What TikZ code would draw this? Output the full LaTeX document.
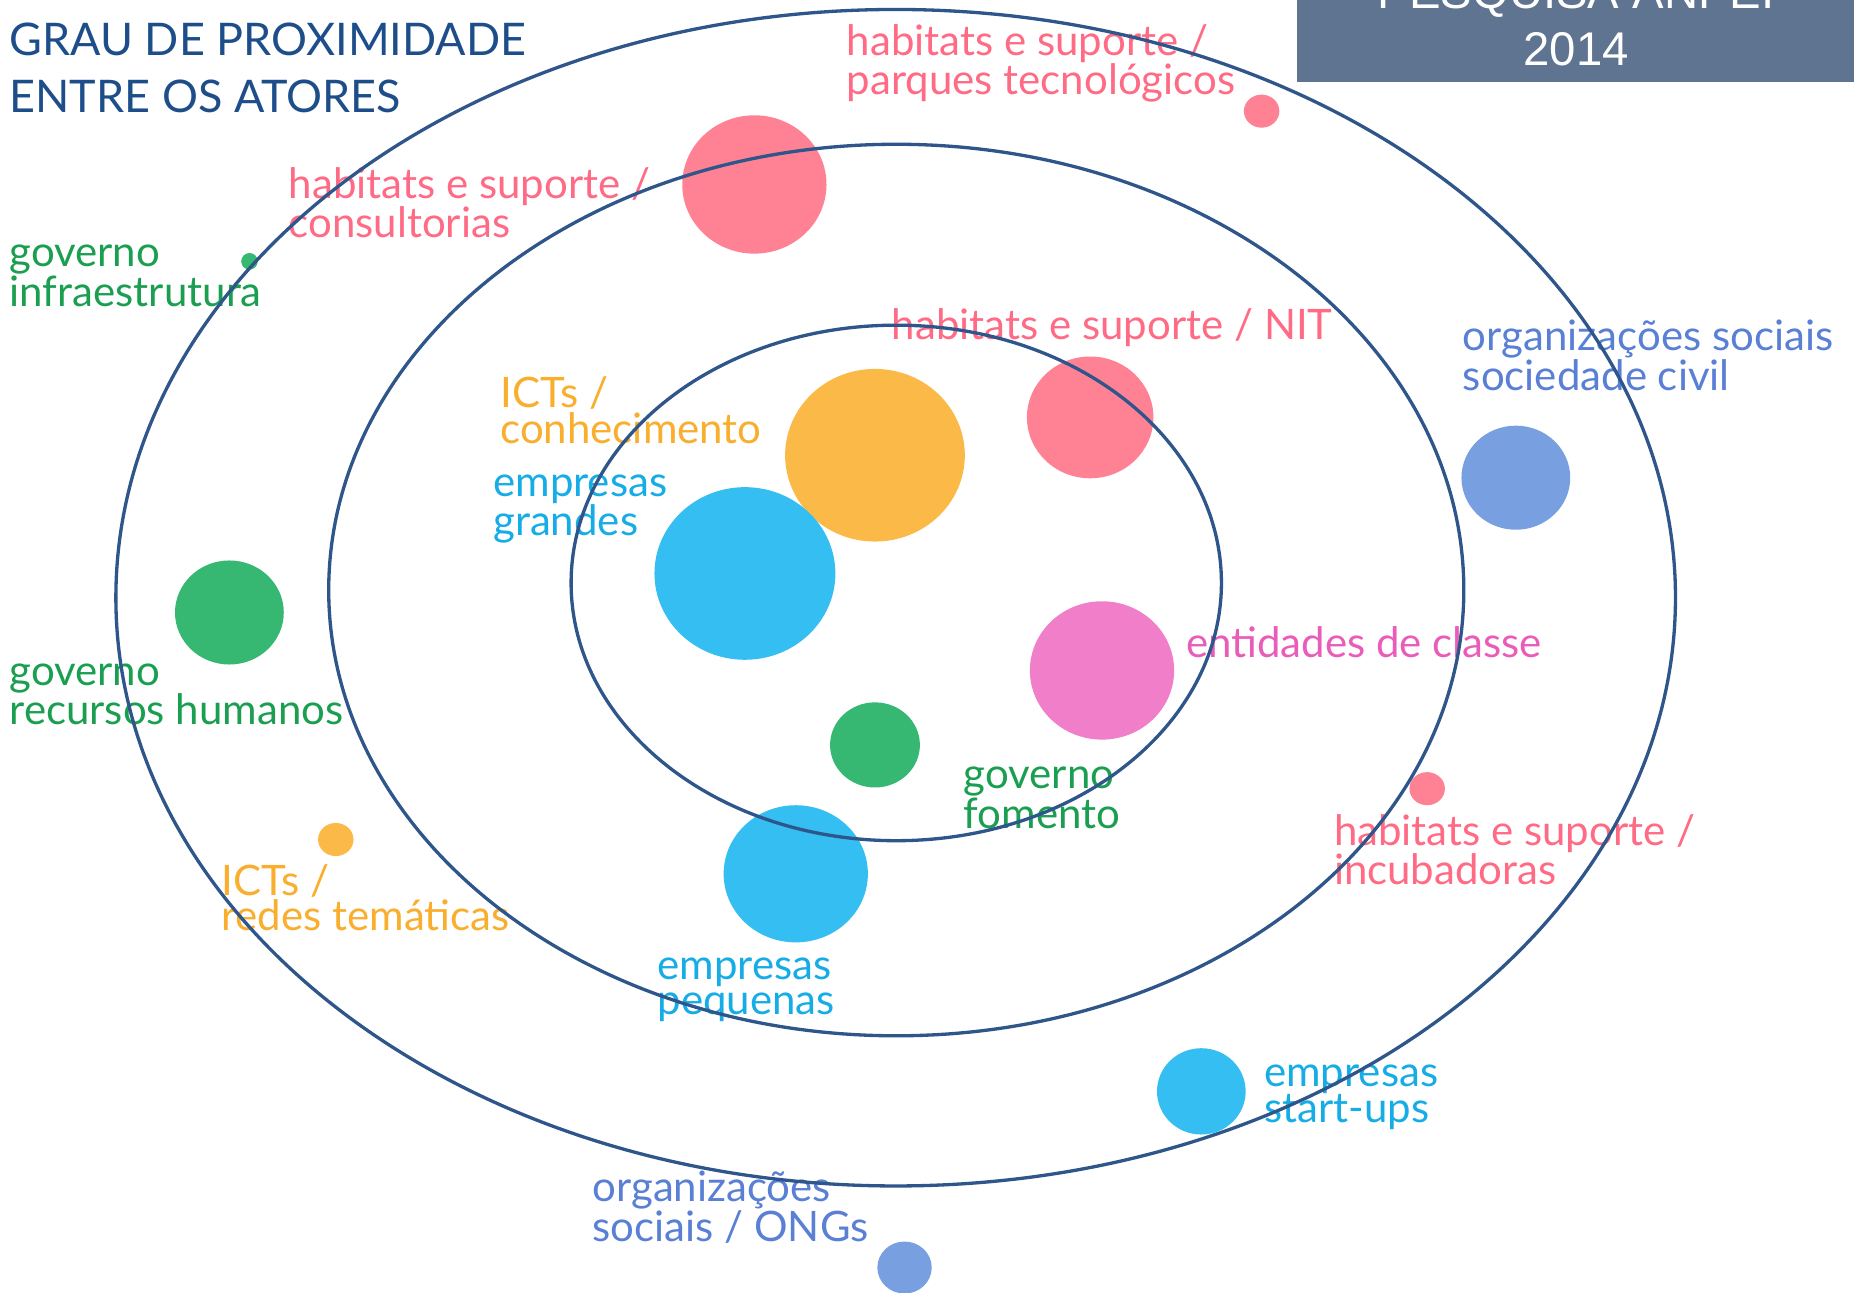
\documentclass[tikz,border=0pt]{standalone}
\usepackage{fontspec}
\setmainfont{Lato}
\newfontfamily\boxfont{Liberation Sans}
\definecolor{ring}{HTML}{2F568A}
\definecolor{titleblue}{HTML}{1E4E8A}
\definecolor{boxfill}{HTML}{5F7490}
\definecolor{pinkfill}{HTML}{FF8294}
\definecolor{pinktext}{HTML}{FF6B85}
\definecolor{yellowfill}{HTML}{FBBA47}
\definecolor{yellowtext}{HTML}{F9AE2E}
\definecolor{bluefill}{HTML}{35BEF1}
\definecolor{bluetext}{HTML}{16ACE6}
\definecolor{greenfill}{HTML}{37B872}
\definecolor{greentext}{HTML}{1A9E50}
\definecolor{magfill}{HTML}{F07EC8}
\definecolor{magtext}{HTML}{E95CB9}
\definecolor{perifill}{HTML}{789FE0}
\definecolor{peritext}{HTML}{5A80D6}
\begin{document}
% multi-line labels are placed by the baseline of their last line
\begin{tikzpicture}[x=1pt,y=-1pt,
  lbl/.style={anchor=base west,inner sep=0pt,align=left,
    font=\fontsize{35.5}{30}\selectfont},
  ringline/.style={draw=ring,line width=2.8pt}]
\useasboundingbox (0,0) rectangle (1568,1093);
\clip (0,0) rectangle (1568,1093);

% title and source box
\node[anchor=base west,inner sep=0pt,align=left,text=titleblue,
  font=\fontsize{38}{48}\selectfont] (title) at (8,95)
  {GRAU DE PROXIMIDADE\\ENTRE OS ATORES};
\fill[boxfill] (1097,-60) rectangle (1568,69);
\node[anchor=base,inner sep=0pt,align=center,text=white,
  font=\boxfont\fontsize{40}{48}\selectfont] (source) at (1333,55)
  {PESQUISA ANPEI\\2014};

% actors
\fill[pinkfill]   (638,156)  ellipse [x radius=61,  y radius=58.5];
\fill[pinkfill]   (1067,94)  ellipse [x radius=15,  y radius=14];
\fill[greenfill]  (211,221)  ellipse [x radius=7,   y radius=7];
\fill[yellowfill] (740,385)  ellipse [x radius=76,  y radius=73];
\fill[pinkfill]   (922,353)  ellipse [x radius=53.5,y radius=51.5];
\fill[bluefill]   (630,485)  ellipse [x radius=76.5,y radius=73];
\fill[perifill]   (1282,404) ellipse [x radius=46,  y radius=44];
\fill[greenfill]  (194,518)  ellipse [x radius=46,  y radius=44];
\fill[magfill]    (932,567)  ellipse [x radius=61,  y radius=58.5];
\fill[greenfill]  (740,630)  ellipse [x radius=38,  y radius=36];
\fill[pinkfill]   (1207,667) ellipse [x radius=15,  y radius=14];
\fill[yellowfill] (284,710)  ellipse [x radius=15,  y radius=14];
\fill[bluefill]   (673,739)  ellipse [x radius=61,  y radius=58];
\fill[bluefill]   (1016,923) ellipse [x radius=37.5,y radius=36.5];
\fill[perifill]   (765,1072) ellipse [x radius=23,  y radius=22];

% labels
\node[lbl,text=pinktext] (parques) at (716,80) {habitats e suporte /\\parques tecnológicos};
\node[lbl,text=pinktext] (consult) at (244,201) {habitats e suporte /\\consultorias};
\node[lbl,text=greentext] (infra) at (8,259) {governo\\infraestrutura};
\node[lbl,text=pinktext] (nit) at (754,287) {habitats e suporte / NIT};
\node[lbl,text=peritext] (civil) at (1237,330) {organizações sociais\\sociedade civil};
\node[lbl,text=yellowtext] (conhec) at (423,375) {ICTs /\\conhecimento};
\node[lbl,text=bluetext] (grandes) at (417,453) {empresas\\grandes};
\node[lbl,text=magtext] (classe) at (1003,556) {entidades de classe};
\node[lbl,text=greentext] (rh) at (8,613) {governo\\recursos humanos};
\node[lbl,text=greentext,font=\fontsize{35.5}{34}\selectfont] (fomento) at (815,701) {governo\\fomento};
\node[lbl,text=pinktext] (incub) at (1128,748) {habitats e suporte /\\incubadoras};
\node[lbl,text=yellowtext] (redes) at (187,787) {ICTs /\\redes temáticas};
\node[lbl,text=bluetext] (pequenas) at (556,858) {empresas\\pequenas};
\node[lbl,text=bluetext] (startups) at (1069,949) {empresas\\start-ups};
\node[lbl,text=peritext] (ongs) at (501,1050) {organizações\\sociais / ONGs};

% proximity rings
\draw[ringline] (757.5,505.5) ellipse [x radius=659.5, y radius=497.5];
\draw[ringline] (758,499) ellipse [x radius=480, y radius=377];
\draw[ringline] (758,493) ellipse [x radius=275, y radius=218];
\end{tikzpicture}
\end{document}
